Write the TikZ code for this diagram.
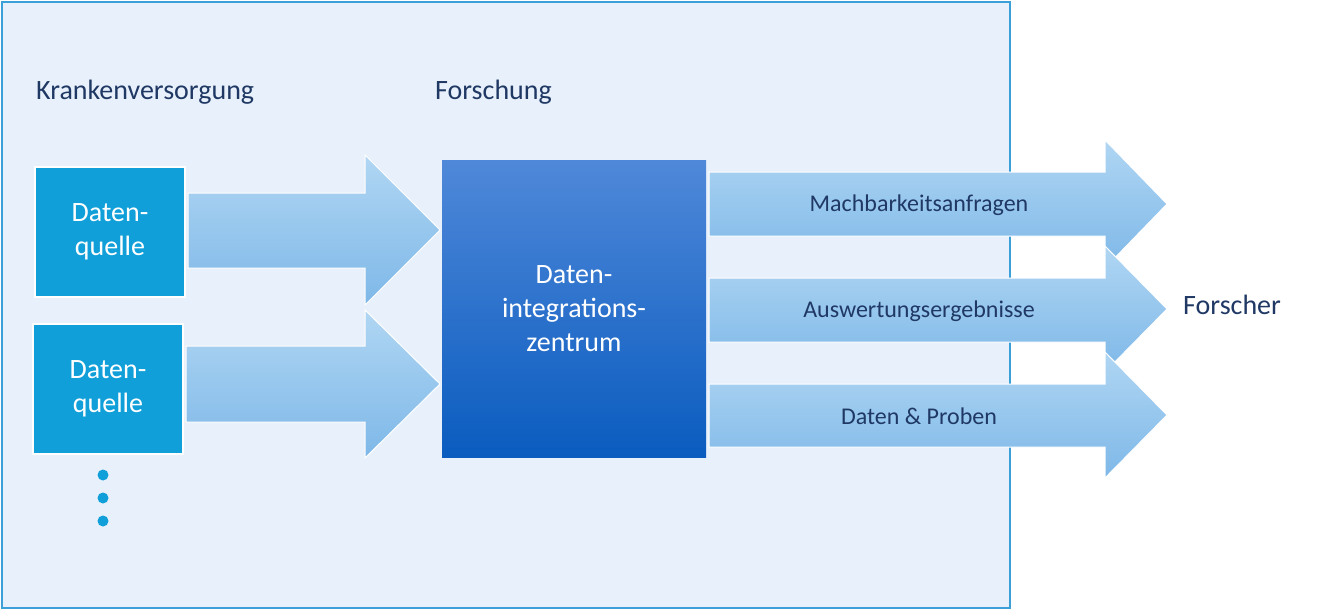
\documentclass[tikz,border=0pt]{standalone}
\usepackage{fontspec}
\setmainfont{Carlito}
\begin{document}
\definecolor{navy}{HTML}{1F3864}
\definecolor{panel}{HTML}{E8F1FB}
\definecolor{edge}{HTML}{3BA0D8}
\definecolor{src}{HTML}{109FD9}
\definecolor{arTop}{HTML}{B0D6F3}
\definecolor{arBot}{HTML}{7EB8E8}
\definecolor{cTop}{HTML}{4F88D9}
\definecolor{cBot}{HTML}{0A5CBF}
\begin{tikzpicture}[x=1pt,y=-1pt,
  lbl/.style={text=navy,font=\fontsize{28}{32}\selectfont,inner sep=0},
  albl/.style={text=navy,font=\fontsize{24}{28}\selectfont,inner sep=0},
  srcbox/.style={fill=src,draw=white,line width=2pt,text=white,align=center,font=\fontsize{28}{34}\selectfont},
  arr/.style={top color=arTop,bottom color=arBot,draw=white,line width=1pt}]
\useasboundingbox (0,0) rectangle (1320,610);
\draw[fill=panel,draw=edge,line width=1.5pt] (2,2) rectangle (1010,608);
\node[lbl,anchor=west] (kv) at (36,92) {Krankenversorgung};
\node[lbl,anchor=west] (fo) at (435,92) {Forschung};
\node[lbl,anchor=west] (fr) at (1183,305) {Forscher};
% left arrows
\path[arr] (188,193) -- (365,193) -- (365,155) -- (440,230) -- (365,305) -- (365,268) -- (188,268) -- cycle;
\path[arr] (186,346) -- (365,346) -- (365,310) -- (440,384) -- (365,458) -- (365,422) -- (186,422) -- cycle;
\node[srcbox,minimum width=150pt,minimum height=130pt] (q1) at (110,232) {Daten-\\quelle};
\node[srcbox,minimum width=150pt,minimum height=130pt] (q2) at (108,389) {Daten-\\quelle};
\foreach \y/\n in {475/a,498/b,521/c} \fill[src] (103,\y) circle (5.5) coordinate (d\n);
% center box
\node[top color=cTop,bottom color=cBot,minimum width=264pt,minimum height=297pt,text=white,align=center,font=\fontsize{28}{34}\selectfont] (diz) at (574,308.5) {Daten-\\integrations-\\zentrum};
% right arrows
\path[arr] (709,172) -- (1105,172) -- (1105,140) -- (1167,204) -- (1105,268) -- (1105,236) -- (709,236) -- cycle;
\node[albl] (m) at (919,205) {Machbarkeitsanfragen};
\path[arr] (709,278) -- (1105,278) -- (1105,246) -- (1167,309) -- (1105,372) -- (1105,342) -- (709,342) -- cycle;
\node[albl] (a) at (919,311) {Auswertungsergebnisse};
\path[arr] (709,384) -- (1105,384) -- (1105,352) -- (1167,415) -- (1105,478) -- (1105,447) -- (709,447) -- cycle;
\node[albl] (d) at (919,416) {Daten \& Proben};
\end{tikzpicture}
\end{document}
